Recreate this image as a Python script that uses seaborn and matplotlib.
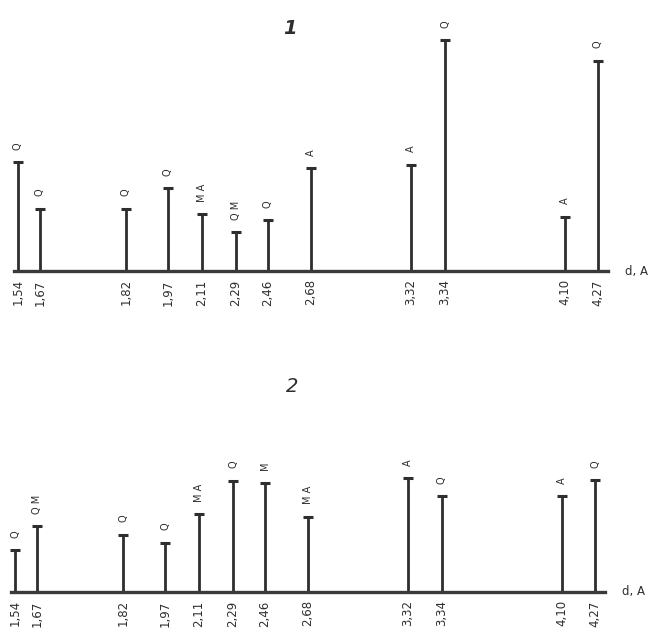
import matplotlib
matplotlib.use("Agg")
import matplotlib.pyplot as plt
import seaborn as sns
import pandas as pd

# --- data -------------------------------------------------------------
d_labels = ["1,54", "1,67", "1,82", "1,97", "2,11", "2,29",
            "2,46", "2,68", "3,32", "3,34", "4,10", "4,27"]
# position of each reflection along the (non-linear) chart axis
peak_pos = [18, 40, 126, 168, 202, 236, 268, 311, 411, 445, 565, 598]

intensity_1 = [109, 62, 62, 83, 57, 39, 51, 103, 106, 231, 54, 210]
phases_1 = ["Q", "Q", "Q", "Q", "M A", "Q M", "Q", "A", "A", "Q", "A", "Q"]

intensity_2 = [42, 66, 57, 49, 78, 111, 109, 75, 114, 96, 96, 112]
phases_2 = ["Q", "Q M", "Q", "Q", "M A", "Q", "M", "M A", "A", "Q", "A", "Q"]

# --- style ------------------------------------------------------------
sns.set_theme(style="white")
plt.rcParams["font.family"] = ["Liberation Sans Narrow", "DejaVu Sans"]

W, H = 651, 637
fig = plt.figure(figsize=(W / 100, H / 100), dpi=100)
fig.patch.set_facecolor("white")

ink = "#2e2e2e"


def panel(ax, inten, phases, ymax):
    df = pd.DataFrame({"pos": peak_pos, "I": inten, "ph": phases})
    ax.vlines(df["pos"], 0, df["I"], color=ink, lw=2.0, zorder=2)
    sns.scatterplot(data=df, x="pos", y="I", marker="_", s=45,
                    linewidth=2.2, color=ink, ax=ax, zorder=3, legend=False)
    for p, i, ph in zip(df["pos"], df["I"], df["ph"]):
        ax.annotate(ph, (p, i), xytext=(0, 9), textcoords="offset points",
                    rotation=90, ha="center", va="bottom", fontsize=7,
                    color=ink, family=["DejaVu Sans"])
    ax.set_xlim(0, W)
    ax.set_ylim(0, ymax)
    ax.set_xticks(peak_pos)
    ax.set_xticklabels(d_labels, rotation=90, fontsize=8.5, color=ink)
    ax.tick_params(axis="x", length=0, pad=6)
    ax.set_yticks([])
    ax.set_xlabel("")
    ax.set_ylabel("")
    for s in ["top", "left", "right"]:
        ax.spines[s].set_visible(False)
    ax.spines["bottom"].set_bounds(14, 608)
    ax.spines["bottom"].set_linewidth(2.4)
    ax.spines["bottom"].set_color("#3a3a3a")
    ax.set_facecolor("none")
    ax.text(625, 0, "d, A", fontsize=8.5, color=ink, va="center", ha="left",
            clip_on=False)


# top panel: baseline at y=271 px
base1 = 271
ax1 = fig.add_axes([0, 1 - base1 / H, 1, base1 / H])
panel(ax1, intensity_1, phases_1, base1)

# bottom panel: baseline at y=592 px, shifted 3 px left
base2, top2 = 592, 330
ax2 = fig.add_axes([-3 / W, 1 - base2 / H, 1, (base2 - top2) / H])
panel(ax2, intensity_2, phases_2, base2 - top2)

fig.text(290 / W, 1 - 28 / H, "1", fontsize=14, style="italic",
         fontweight="bold", color=ink, ha="center", va="center",
         family=["DejaVu Sans"])
fig.text(292 / W, 1 - 386 / H, "2", fontsize=14, style="italic",
         color=ink, ha="center", va="center", family=["DejaVu Sans"])

fig.savefig("out.png", dpi=100, facecolor="white")
